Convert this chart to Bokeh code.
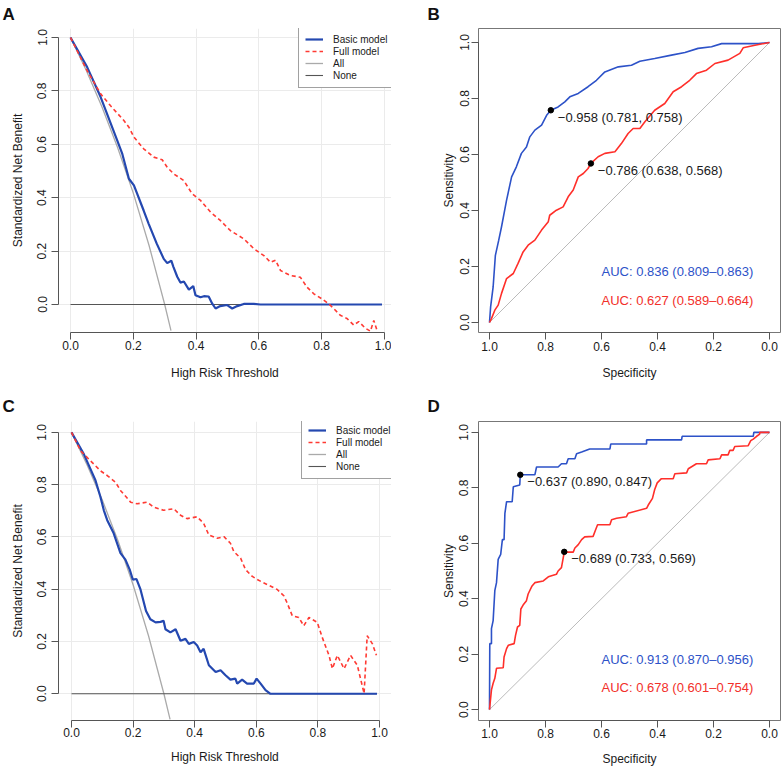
from bokeh.plotting import figure
from bokeh.models import Range1d, FixedTicker, Title, Legend, LegendItem, NumeralTickFormatter
from bokeh.layouts import row, column
from bokeh.embed import file_html
from bokeh.resources import INLINE
from bokeh.core.properties import value

# ---------------- data ----------------
ticks = [0.0, 0.2, 0.4, 0.6, 0.8, 1.0]

# Panel A (decision curve)
a_basic_thr = [0, 0.053, 0.096, 0.149, 0.165, 0.186, 0.202, 0.233, 0.249, 0.275,
               0.297, 0.308, 0.321, 0.328, 0.340, 0.350, 0.361, 0.377, 0.391, 0.398,
               0.414, 0.425, 0.440, 0.451, 0.462, 0.477, 0.499, 0.515, 0.531, 0.552,
               0.584, 0.605, 0.992]
a_basic_nb = [1.0, 0.889, 0.777, 0.614, 0.564, 0.471, 0.446, 0.352, 0.302, 0.227,
              0.171, 0.155, 0.164, 0.140, 0.104, 0.082, 0.086, 0.056, 0.069, 0.035,
              0.027, 0.031, 0.030, 0.004, -0.015, -0.006, -0.002, -0.015, -0.006, 0.002,
              0.002, 0.0, 0.0]
a_full_thr = [0, 0.053, 0.096, 0.127, 0.170, 0.186, 0.202, 0.233, 0.265, 0.292,
              0.308, 0.329, 0.361, 0.387, 0.414, 0.446, 0.477, 0.509, 0.552, 0.584,
              0.616, 0.637, 0.653, 0.669, 0.700, 0.732, 0.753, 0.775, 0.801, 0.822,
              0.838, 0.859, 0.880, 0.902, 0.918, 0.939, 0.955, 0.966, 0.977]
a_full_nb = [1.0, 0.876, 0.789, 0.745, 0.689, 0.664, 0.627, 0.583, 0.552, 0.542,
             0.514, 0.489, 0.464, 0.415, 0.390, 0.346, 0.315, 0.277, 0.246, 0.209,
             0.183, 0.158, 0.166, 0.127, 0.109, 0.102, 0.065, 0.040, 0.021, 0.003,
             -0.015, -0.040, -0.052, -0.077, -0.064, -0.089, -0.100, -0.060, -0.100]

# "All" and "None" reference strategies (shared by A and C)
all_thr = [0.0, 0.05, 0.10, 0.15, 0.20, 0.25, 0.30, 0.32]
all_nb = [1.0, 0.877, 0.741, 0.588, 0.417, 0.222, 0.0, -0.098]
none_thr = [0.0, 0.99]
none_nb = [0.0, 0.0]

# Panel C (decision curve)
c_basic_thr = [0, 0.040, 0.078, 0.094, 0.105, 0.116, 0.137, 0.159, 0.175, 0.189,
               0.199, 0.211, 0.224, 0.242, 0.256, 0.273, 0.289, 0.299, 0.305, 0.321,
               0.338, 0.354, 0.370, 0.381, 0.397, 0.408, 0.419, 0.429, 0.446, 0.468,
               0.484, 0.500, 0.516, 0.532, 0.538, 0.554, 0.570, 0.592, 0.601, 0.614,
               0.630, 0.646, 0.992]
c_basic_nb = [1.0, 0.917, 0.816, 0.753, 0.702, 0.664, 0.614, 0.538, 0.513, 0.475,
              0.437, 0.439, 0.399, 0.317, 0.285, 0.273, 0.275, 0.279, 0.247, 0.235,
              0.247, 0.203, 0.210, 0.191, 0.198, 0.185, 0.159, 0.172, 0.109, 0.083,
              0.090, 0.071, 0.054, 0.058, 0.039, 0.054, 0.039, 0.039, 0.058, 0.039,
              0.014, 0.0, 0.0]
c_full_thr = [0, 0.030, 0.046, 0.094, 0.116, 0.143, 0.159, 0.192, 0.213, 0.246,
              0.267, 0.299, 0.332, 0.354, 0.375, 0.408, 0.429, 0.446, 0.473, 0.495,
              0.516, 0.527, 0.549, 0.565, 0.587, 0.603, 0.635, 0.668, 0.690, 0.700,
              0.717, 0.738, 0.754, 0.771, 0.798, 0.814, 0.836, 0.847, 0.863, 0.885,
              0.906, 0.928, 0.950, 0.960, 0.977, 0.990]
c_full_nb = [1.0, 0.929, 0.910, 0.853, 0.835, 0.809, 0.778, 0.733, 0.727, 0.733,
             0.714, 0.702, 0.708, 0.683, 0.670, 0.677, 0.652, 0.607, 0.595, 0.601,
             0.576, 0.544, 0.519, 0.475, 0.449, 0.437, 0.418, 0.399, 0.374, 0.348,
             0.298, 0.292, 0.260, 0.292, 0.273, 0.216, 0.147, 0.096, 0.147, 0.096,
             0.147, 0.109, 0.001, 0.222, 0.191, 0.147]

# Panel B (ROC)
b_basic_spec = [1.0, 0.996, 0.987, 0.979, 0.967, 0.957, 0.939, 0.921, 0.904, 0.886,
                0.868, 0.856, 0.838, 0.814, 0.796, 0.781, 0.755, 0.731, 0.713, 0.683,
                0.648, 0.618, 0.588, 0.540, 0.493, 0.463, 0.410, 0.350, 0.302, 0.255,
                0.207, 0.171, 0.040, 0.0]
b_basic_sens = [0.0, 0.056, 0.127, 0.240, 0.294, 0.342, 0.437, 0.520, 0.556, 0.604,
                0.627, 0.663, 0.687, 0.705, 0.740, 0.758, 0.770, 0.788, 0.806, 0.818,
                0.842, 0.865, 0.895, 0.913, 0.919, 0.933, 0.943, 0.955, 0.964, 0.979,
                0.985, 0.996, 0.996, 1.0]
b_full_spec = [1.0, 0.993, 0.981, 0.969, 0.957, 0.939, 0.915, 0.898, 0.880, 0.862,
               0.838, 0.814, 0.790, 0.785, 0.761, 0.737, 0.719, 0.701, 0.683, 0.665,
               0.648, 0.638, 0.612, 0.588, 0.552, 0.529, 0.505, 0.487, 0.463, 0.445,
               0.410, 0.374, 0.344, 0.314, 0.285, 0.261, 0.225, 0.195, 0.148, 0.106,
               0.094, 0.052, 0.0]
b_full_sens = [0.0, 0.014, 0.044, 0.062, 0.104, 0.157, 0.175, 0.211, 0.252, 0.276,
               0.294, 0.330, 0.360, 0.383, 0.401, 0.413, 0.449, 0.473, 0.520, 0.532,
               0.550, 0.568, 0.592, 0.604, 0.610, 0.639, 0.675, 0.693, 0.693, 0.717,
               0.758, 0.782, 0.824, 0.842, 0.865, 0.889, 0.901, 0.925, 0.937, 0.961,
               0.981, 0.990, 1.0]
b_cut_spec = [0.781, 0.638]
b_cut_sens = [0.758, 0.568]
b_cut_labels = ["\u22120.958 (0.781, 0.758)", "\u22120.786 (0.638, 0.568)"]
b_auc_labels = ["AUC: 0.836 (0.809\u20130.863)", "AUC: 0.627 (0.589\u20130.664)"]

# Panel D (ROC)
d_basic_spec = [1.0, 0.999, 0.993, 0.993, 0.987, 0.981, 0.975, 0.969, 0.960, 0.954,
                0.948, 0.945, 0.939, 0.919, 0.915, 0.892, 0.890, 0.838, 0.832, 0.755,
                0.743, 0.725, 0.719, 0.695, 0.689, 0.671, 0.642, 0.570, 0.567, 0.439,
                0.439, 0.314, 0.312, 0.058, 0.056, 0.0]
d_basic_sens = [0.0, 0.238, 0.238, 0.292, 0.321, 0.429, 0.458, 0.542, 0.560, 0.613,
                0.613, 0.708, 0.750, 0.750, 0.804, 0.810, 0.847, 0.847, 0.875, 0.875,
                0.887, 0.887, 0.905, 0.905, 0.923, 0.929, 0.940, 0.940, 0.958, 0.958,
                0.973, 0.973, 0.986, 0.986, 1.0, 1.0]
d_full_spec = [1.0, 0.993, 0.987, 0.981, 0.975, 0.951, 0.948, 0.939, 0.933, 0.912,
               0.907, 0.900, 0.892, 0.888, 0.880, 0.868, 0.862, 0.848, 0.838, 0.808,
               0.790, 0.761, 0.755, 0.743, 0.733, 0.701, 0.695, 0.683, 0.671, 0.660,
               0.630, 0.621, 0.614, 0.570, 0.564, 0.546, 0.511, 0.505, 0.439, 0.433,
               0.418, 0.410, 0.401, 0.386, 0.344, 0.338, 0.296, 0.290, 0.261, 0.225,
               0.219, 0.177, 0.171, 0.148, 0.142, 0.130, 0.124, 0.076, 0.067, 0.058,
               0.046, 0.035, 0.035, 0.0]
d_full_sens = [0.0, 0.071, 0.095, 0.113, 0.149, 0.151, 0.190, 0.220, 0.232, 0.238,
               0.268, 0.298, 0.304, 0.363, 0.377, 0.393, 0.417, 0.446, 0.458, 0.464,
               0.479, 0.488, 0.500, 0.512, 0.568, 0.568, 0.583, 0.595, 0.613, 0.623,
               0.625, 0.649, 0.667, 0.667, 0.685, 0.690, 0.696, 0.708, 0.726, 0.738,
               0.762, 0.794, 0.818, 0.833, 0.833, 0.851, 0.854, 0.869, 0.887, 0.887,
               0.901, 0.905, 0.919, 0.919, 0.935, 0.935, 0.949, 0.952, 0.970, 0.976,
               0.986, 0.994, 1.0, 1.0]
d_cut_spec = [0.890, 0.733]
d_cut_sens = [0.847, 0.569]
d_cut_labels = ["\u22120.637 (0.890, 0.847)", "\u22120.689 (0.733, 0.569)"]
d_auc_labels = ["AUC: 0.913 (0.870\u20130.956)", "AUC: 0.678 (0.601\u20130.754)"]

# ---------------- styling ----------------
FONT = "Liberation Sans"
DCA_BLUE = "#2448b0"
DCA_RED = "#ff3a33"
ROC_BLUE = "#2d52c8"
ROC_RED = "#ff2f2a"
TXT = "#1a1a1a"
AXC = "#555555"
W, H = 391, 384


def make_fig(L, R, T, B, xa, xb, yc, yd, outline):
    xr = Range1d(start=(L - xa) / xb, end=(R - xa) / xb)
    yr = Range1d(start=(B - yc) / yd, end=(T - yc) / yd)
    p = figure(width=W, height=H, x_range=xr, y_range=yr,
               output_backend="svg", toolbar_location=None,
               min_border_left=L, min_border_right=W - R,
               min_border_top=T, min_border_bottom=H - B,
               background_fill_color="white", border_fill_color="white",
               outline_line_color=outline)
    return p


def style_axes(p, xlabel, ylabel, xs, xas, ys, yas, grid):
    for ax in (p.xaxis[0], p.yaxis[0]):
        ax.ticker = FixedTicker(ticks=ticks)
        ax.formatter = NumeralTickFormatter(format="0.0")
        ax.bounds = (0, 1)
        ax.axis_line_color = AXC
        ax.major_tick_line_color = AXC
        ax.major_tick_out = 7
        ax.major_tick_in = 0
        ax.minor_tick_out = 0
        ax.minor_tick_in = 0
        ax.major_label_text_font = FONT
        ax.major_label_text_font_size = "12px"
        ax.major_label_text_color = TXT
        ax.axis_label_text_font = FONT
        ax.axis_label_text_font_size = "12px"
        ax.axis_label_text_font_style = "normal"
        ax.axis_label_text_color = TXT
    p.xaxis.axis_label = xlabel
    p.yaxis.axis_label = ylabel
    p.xaxis.major_label_standoff = xs
    p.xaxis.axis_label_standoff = xas
    p.yaxis.major_label_standoff = ys
    p.yaxis.axis_label_standoff = yas
    p.yaxis.major_label_orientation = "vertical"
    if grid:
        p.xgrid.ticker = FixedTicker(ticks=ticks)
        p.ygrid.ticker = FixedTicker(ticks=ticks)
        p.xgrid.grid_line_color = "#ebebeb"
        p.ygrid.grid_line_color = "#ebebeb"
    else:
        p.xgrid.grid_line_color = None
        p.ygrid.grid_line_color = None


def panel_label(p, text, offset, standoff, valign):
    p.add_layout(Title(text=text, align="left", offset=offset, standoff=standoff,
                       vertical_align=valign,
                       text_font=FONT, text_font_style="bold", text_font_size="17px",
                       text_color="#111111"), "above")


def dca_panel(letter, geo, bthr, bnb, fthr, fnb, leg_loc, stand, lab):
    L, R, T, B, xa, xb, yc, yd = geo
    p = make_fig(L, R, T, B, xa, xb, yc, yd, None)
    style_axes(p, "High Risk Threshold", "Standardized Net Benefit", *stand, grid=True)
    r_all = p.line(all_thr, all_nb, line_color="#aaaaaa", line_width=1.3)
    r_none = p.line(none_thr, none_nb, line_color="#555555", line_width=1.1)
    r_b = p.line(bthr, bnb, line_color=DCA_BLUE, line_width=2.2)
    r_f = p.line(fthr, fnb, line_color=DCA_RED, line_width=1.6, line_dash="4 3")
    leg = Legend(items=[LegendItem(label="Basic model", renderers=[r_b]),
                        LegendItem(label="Full model", renderers=[r_f]),
                        LegendItem(label="All", renderers=[r_all]),
                        LegendItem(label="None", renderers=[r_none])],
                 location=leg_loc, orientation="vertical",
                 label_text_font=FONT, label_text_font_size="10px",
                 label_text_color=TXT, glyph_width=18, glyph_height=12,
                 label_height=12, label_standoff=10, spacing=0, padding=6,
                 margin=0, border_line_color="#444444", border_line_width=1,
                 background_fill_color="white", background_fill_alpha=1.0)
    p.add_layout(leg)
    panel_label(p, letter, lab[0], lab[1], lab[2])
    return p


def roc_panel(letter, geo, bs, bse, fs, fse, cs, cse, clab, alab, stand, lab):
    L, R, T, B, xa, xb, yc, yd = geo
    p = make_fig(L, R, T, B, xa, xb, yc, yd, "#777777")
    style_axes(p, "Specificity", "Sensitivity", *stand, grid=False)
    p.line([1, 0], [0, 1], line_color="#bbbbbb", line_width=1)
    p.line(bs, bse, line_color=ROC_BLUE, line_width=1.6)
    p.line(fs, fse, line_color=ROC_RED, line_width=1.6)
    p.scatter(cs, cse, size=5.5, color="black")
    p.text(cs, cse, text=clab, x_offset=7, y_offset=7,
           text_font=value(FONT), text_font_size="13px", text_color=TXT,
           text_align="left", text_baseline="middle")
    p.text([0.6, 0.6], [0.181, 0.080], text=alab,
           text_font=value(FONT), text_font_size="13px",
           text_color=["#2d52c8", "#f2302a"],
           text_align="left", text_baseline="middle")
    panel_label(p, letter, lab[0], lab[1], lab[2])
    return p


# (frame left, right, top, bottom, x px at 0, px per unit, y px at 0, px per unit)
geoA = (58, 391, 28, 332, 70, 314, 304, -267)
geoB = (87, 389, 28, 332, 378, -280, 322, -280)
geoC = (58, 391, 37, 339, 71, 308, 312, -264)
geoD = (87, 389, 37, 339, 378, -280, 328, -280)

pA = dca_panel("A", geoA, a_basic_thr, a_basic_nb, a_full_thr, a_full_nb,
               (240, 244), (1, 13, 5, 10), (-56, 6, "top"))
pC = dca_panel("C", geoC, c_basic_thr, c_basic_nb, c_full_thr, c_full_nb,
               (243, 241), (0, 10, 5, 10), (-56, 11, "bottom"))
pB = roc_panel("B", geoB, b_basic_spec, b_basic_sens, b_full_spec, b_full_sens,
               b_cut_spec, b_cut_sens, b_cut_labels, b_auc_labels,
               (2, 12, 3, 1), (-51, 6, "top"))
pD = roc_panel("D", geoD, d_basic_spec, d_basic_sens, d_full_spec, d_full_sens,
               d_cut_spec, d_cut_sens, d_cut_labels, d_auc_labels,
               (1, 11, 3, 1), (-51, 11, "bottom"))

layout = column(row(pA, pB, spacing=0), row(pC, pD, spacing=0), spacing=0)
open("out.html", "w").write(file_html(layout, INLINE))
